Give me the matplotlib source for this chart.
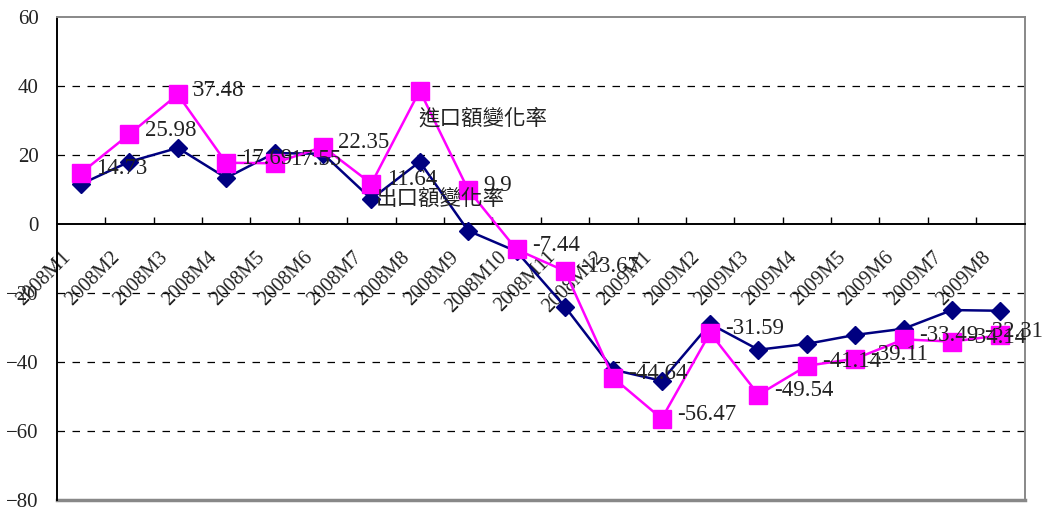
# 2008M1~2009M8 進出口額變化率
import numpy as np
import matplotlib.pyplot as plt
from matplotlib.transforms import ScaledTranslation

months = ['2008M1', '2008M2', '2008M3', '2008M4', '2008M5', '2008M6', '2008M7',
          '2008M8', '2008M9', '2008M10', '2008M11', '2008M12', '2009M1', '2009M2',
          '2009M3', '2009M4', '2009M5', '2009M6', '2009M7', '2009M8']
# 進口額變化率 (%)
imp = [14.73, 25.98, 37.48, 17.69, 17.55, 22.35, 11.64, 38.6, 9.9, -7.44,
       -13.67, -44.64, -56.47, -31.59, -49.54, -41.14, -39.11, -33.49, -34.14, -32.31]
# 出口額變化率 (%)
exp_ = [11.5, 18.0, 22.0, 13.3, 20.5, 20.3, 7.2, 18.0, -2.0, -8.0,
        -24.0, -42.3, -45.5, -29.0, -36.5, -34.8, -32.2, -30.4, -25.0, -25.2]
# 沒有標示數值的點
no_label = [7]

serif = 'Liberation Serif'
cjk = ['Noto Sans CJK TC', 'DejaVu Sans']

fig = plt.figure(figsize=(10.52, 5.09), dpi=100)
ax = fig.add_axes([0.054, 0.018, 0.92, 0.949])

x = np.arange(len(months))
ax.plot(x, exp_, color='#000080', lw=1.8, marker='D', ms=9, zorder=3)
ax.plot(x, imp, color='#FF00FF', lw=1.8, marker='s', ms=13, zorder=4)

# 數值標籤
for i, v in enumerate(imp):
    if i in no_label:
        continue
    dx = 11
    if i == len(imp) - 1:
        dx = -12
    ax.annotate(f'{v:g}', (i, v), xytext=(dx, 3), textcoords='offset points',
                ha='left', va='center', fontsize=16.5, family=serif,
                color='#222222', zorder=5)

# 數列名稱
ax.annotate('出口額變化率', (6, exp_[6]), xytext=(3, 0), textcoords='offset points',
            ha='left', va='center', fontsize=15.5, family=cjk, color='#222222', zorder=5)
ax.annotate('進口額變化率', (7, imp[7]), xytext=(-1, -20), textcoords='offset points',
            ha='left', va='center', fontsize=15.5, family=cjk, color='#222222', zorder=5)

ax.set_xlim(-0.5, len(months) - 0.5)
ax.set_ylim(-80, 60)
ax.set_yticks(np.arange(-80, 61, 20))
for g in [40, 20, -20, -40, -60]:
    ax.axhline(g, color='black', lw=0.9, ls=(0, (6, 6)), zorder=1)

# 座標軸
ax.spines['bottom'].set_position(('data', 0))
ax.spines['bottom'].set_color('black')
ax.spines['bottom'].set_linewidth(1.4)
ax.spines['left'].set_color('black')
ax.spines['left'].set_linewidth(1.4)
for s in ['top', 'right']:
    ax.spines[s].set_color('#888888')
    ax.spines[s].set_linewidth(1.4)
ax.axhline(-80, color='#888888', lw=2.5, clip_on=False, zorder=2)

ax.set_xticks(np.arange(0.5, len(months) - 1, 1))
ax.set_xticklabels([])
ax.tick_params(axis='x', which='major', direction='in', length=5, width=1)
ax.set_xticks(x, months, minor=True)
ax.tick_params(axis='x', which='minor', length=0, pad=22, labelsize=14.5)
shift = ScaledTranslation(-9 / 72, 0, fig.dpi_scale_trans)
for lab in ax.get_xticklabels(minor=True):
    lab.set_rotation(45)
    lab.set_ha('right')
    lab.set_va('center')
    lab.set_rotation_mode('anchor')
    lab.set_family(serif)
    lab.set_color('#222222')
    lab.set_transform(lab.get_transform() + shift)

ax.tick_params(axis='y', length=0, pad=13, labelsize=15)
for lab in ax.get_yticklabels():
    lab.set_family(serif)
    lab.set_color('#222222')

fig.savefig('out.png', dpi=100)
